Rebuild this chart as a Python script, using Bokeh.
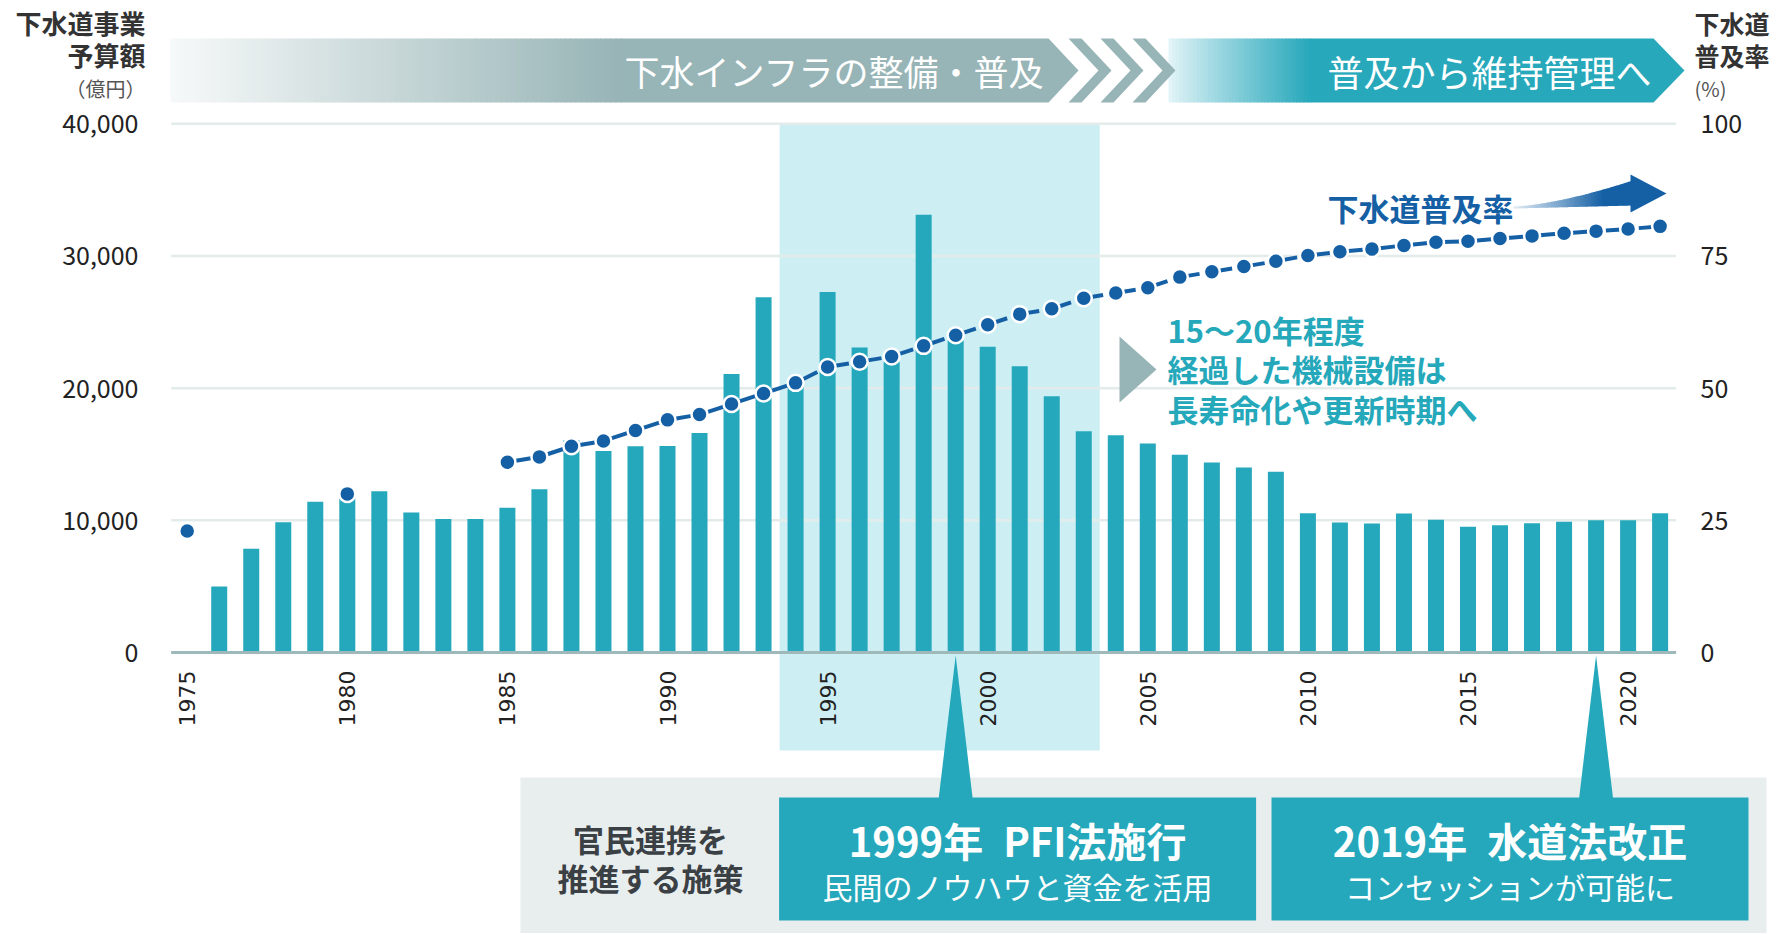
import math
from bokeh.plotting import figure
from bokeh.models import Range1d
from bokeh.core.properties import value
from bokeh.embed import file_html
from bokeh.resources import INLINE

# ---------------- data ----------------
budget_years = list(range(1976, 2022))
budget = [5000, 7850, 9850, 11400, 11700, 12200, 10600, 10100, 10100, 10950,
          12350, 16050, 15250, 15600, 15620, 16600, 21080, 26870, 20300, 27270,
          23080, 22000, 33110, 23600, 23140, 21650, 19380, 16730, 16430, 15810,
          14970, 14380, 14000, 13680, 10540, 9840, 9760, 10510, 10050, 9510,
          9620, 9780, 9890, 10000, 10000, 10540]

pct_years = [1975, 1980] + list(range(1985, 2022))
pct = [23.0, 30.0,
       36.0, 37.0, 39.0, 40.0, 42.0, 44.0, 45.0, 47.0, 49.0, 51.0,
       54.0, 55.0, 56.0, 58.0, 60.0, 62.0, 64.0, 65.0, 67.0, 68.0,
       69.0, 71.0, 72.0, 73.0, 74.0, 75.1, 75.8, 76.3, 77.0, 77.6,
       77.8, 78.3, 78.8, 79.3, 79.7, 80.1, 80.6]
line_start_year = 1985

budget_ticks = [0, 10000, 20000, 30000, 40000]
pct_ticks = [0, 25, 50, 75, 100]
year_ticks = list(range(1975, 2021, 5))
highlight_years = (1994, 2003)
event_years = [1999, 2019]
event_titles = ["1999年\u2002PFI法施行", "2019年\u2002水道法改正"]
event_subs = ["民間のノウハウと資金を活用", "コンセッションが可能に"]
banner_texts = ["下水インフラの整備・普及", "普及から維持管理へ"]
note_lines = ["15～20年程度", "経過した機械設備は", "長寿命化や更新時期へ"]
series_label = "下水道普及率"
policy_lines = ["官民連携を", "推進する施策"]
left_title = ["下水道事業", "予算額", "（億円）"]
right_title = ["下水道", "普及率", "(%)"]

# ---------------- layout / style ----------------
JP = "Noto Sans CJK JP"
BAR = "#25a8bb"
LINE = "#1560a5"
BAND = "#cdeff4"
GRID = "#e4ebeb"
ZERO = "#9fb9bb"
BANNER1 = "#97b4b6"
BANNER2 = "#27a8bb"
GRAYBOX = "#e8eeee"
DARK = "#333333"

PX_PER_YEAR = 32.02
YEAR0_PX = 186.7               # canvas x of first year tick
ZERO_PY = 652.0
PX_PER_UNIT = (652.0 - 123.3) / 40000
PCT_SCALE = 400.0               # 100 % <-> 40,000

W, H = 1775, 933


def X(px):
    return 1975 + (px - YEAR0_PX) / PX_PER_YEAR


def Y(py):
    return (ZERO_PY - py) / PX_PER_UNIT


def hexrgb(c):
    c = c.lstrip("#")
    return tuple(int(c[i:i + 2], 16) for i in (0, 2, 4))


def lerp(c1, c2, t):
    a, b = hexrgb(c1), hexrgb(c2)
    t = max(0.0, min(1.0, t))
    return "#%02x%02x%02x" % tuple(int(round(a[i] + (b[i] - a[i]) * t)) for i in range(3))


p = figure(width=W, height=H, output_backend="svg", toolbar_location=None, tools="",
           x_range=Range1d(X(0), X(W)), y_range=Range1d(Y(H), Y(0)),
           x_axis_type=None, y_axis_type=None,
           min_border_left=0, min_border_right=0, min_border_top=0, min_border_bottom=0)
p.outline_line_color = None
p.background_fill_color = "white"
p.border_fill_color = "white"
p.extra_y_ranges = {"pct": Range1d(Y(H) / PCT_SCALE, Y(0) / PCT_SCALE)}


def txt(xs, ys, texts, size, color, align="left", bold=False, font=JP, angle=0.0,
        y_range_name=None, baseline="middle"):
    kw = dict(x=xs, y=ys, text=texts, text_font=value(font), text_font_size=f"{size}px",
              text_color=color, text_align=align, text_baseline=baseline,
              text_font_style="bold" if bold else "normal", angle=angle)
    if y_range_name:
        kw["y_range_name"] = y_range_name
    p.text(**kw)


def poly(pts):
    return [X(a) for a, _ in pts], [Y(b) for _, b in pts]


def patches(list_of_pts, colors):
    xs, ys = [], []
    for pts in list_of_pts:
        a, b = poly(pts)
        xs.append(a)
        ys.append(b)
    p.patches(xs=xs, ys=ys, fill_color=colors, line_color=None)


# ---------------- header banners ----------------
TOP, BOT, MID = 38, 102, 70
g0, g1 = 170, 620
n = 90
xs = [g0 + (g1 - g0) * i / n for i in range(n + 1)]
p.quad(left=[X(a) for a in xs[:-1]], right=[X(b + 0.8) for b in xs[1:]],
       top=[Y(TOP)] * n, bottom=[Y(BOT)] * n,
       fill_color=[lerp("#f7f9f9", BANNER1, (i + 0.5) / n) for i in range(n)], line_color=None)
patches([[(g1, TOP), (1048, TOP), (1078, MID), (1048, BOT), (g1, BOT)]], [BANNER1])

h0, h1 = 1168, 1310
n2 = 40
xs2 = [h0 + (h1 - h0) * i / n2 for i in range(n2 + 1)]
p.quad(left=[X(a) for a in xs2[:-1]], right=[X(b + 0.8) for b in xs2[1:]],
       top=[Y(TOP)] * n2, bottom=[Y(BOT)] * n2,
       fill_color=[lerp("#e6f5f8", BANNER2, ((i + 0.5) / n2) ** 0.9) for i in range(n2)],
       line_color=None)
patches([[(h1, TOP), (1653, TOP), (1684, MID), (1653, BOT), (h1, BOT)]], [BANNER2])

chev = []
for k in range(3):
    a = 1068 + 32 * k
    chev.append([(a, TOP), (a + 13, TOP), (a + 43, MID), (a + 13, BOT), (a, BOT), (a + 30, MID)])
patches(chev, [BANNER1] * 3)

txt([X(1044)], [Y(MID)], [banner_texts[0]], 35, "white", align="right")
txt([X(1651)], [Y(MID)], [banner_texts[1]], 36, "white", align="right")

# ---------------- highlight band, grid, bars ----------------
p.quad(left=[highlight_years[0] - 0.5], right=[highlight_years[1] + 0.5],
       bottom=[Y(750)], top=[budget_ticks[-1]], fill_color=BAND, line_color=None)

x_start = pct_years[0] - 0.5
x_end = budget_years[-1] + 0.5
p.segment(x0=[x_start] * 4, x1=[x_end] * 4, y0=budget_ticks[1:], y1=budget_ticks[1:],
          line_color=GRID, line_width=2.5)

p.vbar(x=budget_years, top=budget, bottom=0, width=0.5, fill_color=BAR, line_color=None)

p.segment(x0=[x_start], x1=[x_end], y0=[0], y1=[0], line_color=ZERO, line_width=3)

# left axis labels (budget scale)
txt([X(138)] * len(budget_ticks), budget_ticks, [f"{t:,}" for t in budget_ticks], 25,
    "#222222", align="right")

# year labels
txt(year_ticks, [Y(670)] * len(year_ticks), [str(y) for y in year_ticks], 22, "#222222",
    align="right", font="DejaVu Sans", angle=math.pi / 2)

# right axis labels (percent scale)
txt([X(1700)] * len(pct_ticks), pct_ticks, [str(t) for t in pct_ticks], 25, "#222222",
    align="left", y_range_name="pct")

# ---------------- bottom policy panel ----------------
p.quad(left=[X(520)], right=[X(1766)], top=[Y(777)], bottom=[Y(H + 5)],
       fill_color=GRAYBOX, line_color=None)
box_l = [778.6, 1271.0]
box_r = [1255.6, 1748.0]
p.quad(left=[X(a) for a in box_l], right=[X(b) for b in box_r],
       top=[Y(797)] * 2, bottom=[Y(920)] * 2, fill_color=BAR, line_color=None)
half = 17 / PX_PER_YEAR
tri_xs = [[e, e - half, e + half] for e in event_years]
tri_ys = [[Y(655), Y(798), Y(798)] for _ in event_years]
p.patches(xs=tri_xs, ys=tri_ys, fill_color=BAR, line_color=None)

centers = [X((a + b) / 2) for a, b in zip(box_l, box_r)]
txt(centers, [Y(839)] * 2, event_titles, 40, "white", align="center", bold=True)
txt(centers, [Y(885)] * 2, event_subs, 30, "white", align="center")
txt([X(650)] * 2, [Y(838), Y(877)], policy_lines, 31, "#3b4045", align="center", bold=True)

# ---------------- annotation ----------------
patches([[(1119, 336), (1156, 369), (1119, 402)]], [BANNER1])
txt([X(1167)] * 3, [Y(329), Y(368), Y(407.5)], note_lines, 31, "#26a8bb", bold=True)

# ---------------- coverage line ----------------
ly = [y for y in pct_years if y >= line_start_year]
lv = [v for y, v in zip(pct_years, pct) if y >= line_start_year]
p.line(x=ly, y=lv, y_range_name="pct", line_color=LINE, line_width=4,
       line_dash="20 13", line_dash_offset=26)
p.scatter(x=pct_years, y=pct, y_range_name="pct", size=16, marker="circle",
          fill_color=LINE, line_color="white", line_width=2.5)

# series label with gradient arrow
txt([X(1513)], [Y(207)], [series_label], 31, LINE, align="right", bold=True)
a0, a1 = 1513, 1632
na = 60
segs, cols = [], []
for i in range(na):
    t0, t1 = i / na, (i + 1) / na
    xa = a0 + (a1 - a0) * t0
    xb = a0 + (a1 - a0) * t1 + 0.7
    segs.append([(xa, 206 - 26 * t0 ** 1.5), (xb, 206 - 26 * t1 ** 1.5),
                 (xb, 208 - 3 * t1), (xa, 208 - 3 * t0)])
    cols.append(lerp("#e2ecf5", LINE, ((t0 + t1) / 2) / 0.75))
patches(segs, cols)
patches([[(1630, 174), (1666, 193), (1630, 212)]], [LINE])

# ---------------- axis titles ----------------
for i, (s, yy) in enumerate(zip(left_title, [22, 54, 88])):
    txt([X(145)], [Y(yy)], [s], 26 if i < 2 else 20, DARK if i < 2 else "#555555",
        align="right", bold=(i < 2))
for i, (s, yy) in enumerate(zip(right_title, [22, 54, 88])):
    txt([X(1694)], [Y(yy)], [s], 25 if i < 2 else 20, DARK if i < 2 else "#555555",
        align="left", bold=(i < 2))

open("out.html", "w").write(file_html(p, INLINE))
